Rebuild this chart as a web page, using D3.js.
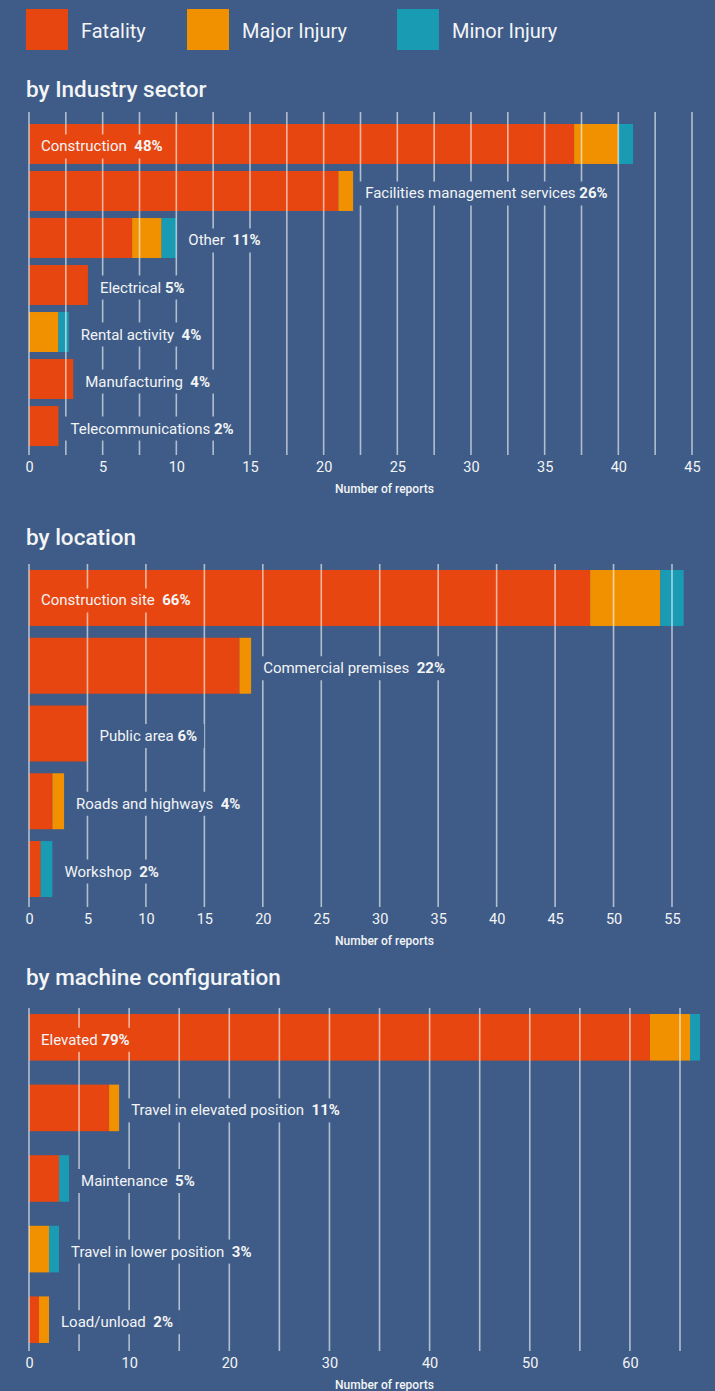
<!DOCTYPE html>
<html>
<head>
<meta charset="utf-8">
<script src="https://cdn.jsdelivr.net/npm/d3@7"></script>
<style>
  body { margin: 0; background: #3e5c87; }
  svg text { font-family: Roboto, "Noto Sans", sans-serif; fill: #f3f4f6; white-space: pre; }
</style>
</head>
<body>
<script>
// series
const keys = ["Fatality", "Major Injury", "Minor Injury"];
const colours = ["#e84611", "#f19100", "#1a9bb4"];

// by industry sector
const sectorNames = ["Construction  ", "Facilities management services ", "Other  ", "Electrical ", "Rental activity  ", "Manufacturing  ", "Telecommunications "];
const sectorPct = ["48%", "26%", "11%", "5%", "4%", "4%", "2%"];
const sectorFatal = [37, 21, 7, 4, 0, 3, 2];
const sectorMajor = [3, 1, 2, 0, 2, 0, 0];
const sectorMinor = [1, 0, 1, 0, 0.7, 0, 0];
const sectorTicks = [0, 5, 10, 15, 20, 25, 30, 35, 40, 45];
const sectorGrid = [0, 2.5, 5, 7.5, 10, 12.5, 15, 17.5, 20, 22.5, 25, 27.5, 30, 32.5, 35, 37.5, 40, 42.5, 45];

// by location
const locationNames = ["Construction site  ", "Commercial premises  ", "Public area ", "Roads and highways  ", "Workshop  "];
const locationPct = ["66%", "22%", "6%", "4%", "2%"];
const locationFatal = [48, 18, 5, 2, 1];
const locationMajor = [6, 1, 0, 1, 0];
const locationMinor = [2, 0, 0, 0, 1];
const locationTicks = [0, 5, 10, 15, 20, 25, 30, 35, 40, 45, 50, 55];
const locationGrid = [0, 5, 10, 15, 20, 25, 30, 35, 40, 45, 50, 55];

// by machine configuration
const machineNames = ["Elevated ", "Travel in elevated position  ", "Maintenance  ", "Travel in lower position  ", "Load/unload  "];
const machinePct = ["79%", "11%", "5%", "3%", "2%"];
const machineFatal = [62, 8, 3, 0, 1];
const machineMajor = [4, 1, 0, 2, 1];
const machineMinor = [1, 0, 1, 1, 0];
const machineTicks = [0, 10, 20, 30, 40, 50, 60];
const machineGrid = [0, 5, 10, 15, 20, 25, 30, 35, 40, 45, 50, 55, 60, 65];

const W = 715, H = 1391;

let svg = d3.select("body").append("svg")
    .attr("width", W)
    .attr("height", H);

svg.append("rect")
    .attr("width", W)
    .attr("height", H)
    .attr("fill", "#3e5c87");

// legend
let legendX = [26, 187, 397];
let legend = svg.selectAll(".legend")
    .data(keys)
    .enter().append("g")
      .attr("class", "legend")
      .attr("transform", function(d, i) { return "translate(" + legendX[i] + ",9)"; });

legend.append("rect")
    .attr("width", 42)
    .attr("height", 41)
    .attr("fill", function(d, i) { return colours[i]; });

legend.append("text")
    .attr("x", 55)
    .attr("y", 29)
    .style("font-size", "20px")
    .text(function(d) { return d; });

function drawPanel(p) {
    let rows = p.names.map(function(name, i) {
        return {name: name, pct: p.pct[i], fatal: p.fatal[i], major: p.major[i], minor: p.minor[i]};
    });
    let stack = d3.stack().keys(["fatal", "major", "minor"])(rows);

    let x = d3.scaleLinear()
        .domain([0, p.xMax])
        .range([29, p.right]);

    let y = d3.scaleBand()
        .domain(p.names)
        .range([p.barTop, p.barBottom])
        .paddingInner(p.pad);

    let g = svg.append("g").attr("class", "panel");

    g.append("text")
        .attr("x", 26)
        .attr("y", p.titleY)
        .style("font-size", "22.5px")
        .style("font-weight", 500)
        .text(p.title);

    let layer = g.selectAll(".layer")
        .data(stack)
        .enter().append("g")
          .attr("class", "layer")
          .attr("fill", function(d, i) { return colours[i]; });

    layer.selectAll("rect")
        .data(function(d) { return d; })
        .enter().append("rect")
          .attr("x", function(d) { return x(d[0]); })
          .attr("y", function(d) { return y(d.data.name); })
          .attr("width", function(d) { return x(d[1]) - x(d[0]); })
          .attr("height", y.bandwidth());

    // gridlines, cut where the labels sit
    let maskId = "mask-" + p.id;
    let mask = g.append("mask")
        .attr("id", maskId)
        .attr("maskUnits", "userSpaceOnUse")
        .attr("x", 0).attr("y", p.gridTop - 5)
        .attr("width", W).attr("height", p.gridBottom - p.gridTop + 10);
    mask.append("rect")
        .attr("x", 0).attr("y", p.gridTop - 5)
        .attr("width", W).attr("height", p.gridBottom - p.gridTop + 10)
        .attr("fill", "white");

    g.append("g")
        .attr("mask", "url(#" + maskId + ")")
        .selectAll("line")
        .data(p.grid)
        .enter().append("line")
          .attr("x1", function(d) { return x(d); })
          .attr("x2", function(d) { return x(d); })
          .attr("y1", p.gridTop)
          .attr("y2", p.gridBottom)
          .attr("stroke", "#ffffff")
          .attr("stroke-opacity", 0.6)
          .attr("stroke-width", 1.6);

    let labels = g.selectAll(".bar-label")
        .data(rows)
        .enter().append("text")
          .attr("class", "bar-label")
          .attr("x", function(d, i) {
              return i === 0 ? 41 : x(d.fatal + d.major + d.minor) + 12;
          })
          .attr("y", function(d) { return y(d.name) + y.bandwidth() / 2; })
          .attr("dy", "0.5em")
          .style("font-size", "15px");
    labels.append("tspan").text(function(d) { return d.name; });
    labels.append("tspan").style("font-weight", 700).text(function(d) { return d.pct; });

    labels.each(function() {
        let b = this.getBBox();
        mask.append("rect")
            .attr("x", b.x - 7)
            .attr("y", b.y - 3)
            .attr("width", b.width + 14)
            .attr("height", b.height + 6)
            .attr("fill", "black");
    });

    let axis = d3.axisBottom(x)
        .tickValues(p.ticks)
        .tickSize(0)
        .tickPadding(7);

    g.append("g")
        .attr("transform", "translate(0," + p.gridBottom + ")")
        .call(axis)
        .call(function(a) {
            a.select(".domain").remove();
            a.selectAll("text")
                .attr("fill", "#dfe4ee")
                .style("font-family", "Roboto, sans-serif")
                .style("font-size", "14.5px");
        });

    g.append("text")
        .attr("x", 335)
        .attr("y", p.gridBottom + 38)
        .style("font-size", "12px")
        .style("font-weight", 500)
        .text("Number of reports");
}

drawPanel({
    id: "sector", title: "by Industry sector", titleY: 97,
    names: sectorNames, pct: sectorPct, fatal: sectorFatal, major: sectorMajor, minor: sectorMinor,
    ticks: sectorTicks, grid: sectorGrid, xMax: 45, right: 692,
    barTop: 124, barBottom: 446, pad: 0.15, gridTop: 112, gridBottom: 455
});

drawPanel({
    id: "location", title: "by location", titleY: 545,
    names: locationNames, pct: locationPct, fatal: locationFatal, major: locationMajor, minor: locationMinor,
    ticks: locationTicks, grid: locationGrid, xMax: 55, right: 672,
    barTop: 570, barBottom: 897, pad: 0.174, gridTop: 564, gridBottom: 907
});

drawPanel({
    id: "machine", title: "by machine configuration", titleY: 985,
    names: machineNames, pct: machinePct, fatal: machineFatal, major: machineMajor, minor: machineMinor,
    ticks: machineTicks, grid: machineGrid, xMax: 65, right: 680,
    barTop: 1014, barBottom: 1343, pad: 0.34, gridTop: 1008, gridBottom: 1351
});
</script>
</body>
</html>
